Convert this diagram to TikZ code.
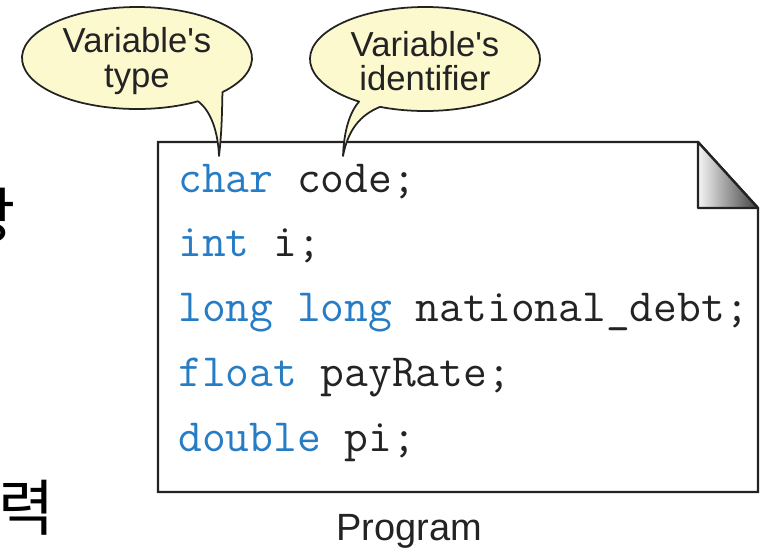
\documentclass[tikz,border=0pt]{standalone}
\usepackage{fontspec}
\setsansfont{Liberation Sans}
\newfontfamily\krfont{Noto Sans CJK KR}
\usetikzlibrary{positioning}
\definecolor{kwblue}{RGB}{38,125,198}
\definecolor{ink}{RGB}{35,35,35}
\definecolor{balloon}{RGB}{253,249,207}
\newcommand{\kw}[1]{\textcolor{kwblue}{#1}}

\begin{document}
\begin{tikzpicture}[x=0.03cm, y=-0.03cm,
  bubble/.style={draw=ink, line width=1.5pt, fill=balloon, line join=round},
  bubtext/.style={font=\sffamily\fontsize{29.6}{29.4}\selectfont, text=ink, align=center, inner sep=0pt},
  codeln/.style={font=\ttfamily\fontsize{39.4}{39.4}\selectfont, anchor=base west, inner sep=0pt, text=ink},
  hangul/.style={font=\krfont\fontsize{52}{52}\selectfont, inner sep=0pt}]
  \useasboundingbox (0,0) rectangle (772,548);
  % page with folded corner
  \coordinate (tl) at (158,142);
  \coordinate (fa) at (698,142);
  \coordinate (fb) at (698,208);
  \coordinate (fc) at (758,208);
  \coordinate (br) at (758,492);
  \coordinate (bl) at (158,492);
  \draw[ink, line width=2pt, fill=white] (tl) -- (fa) -- (fc) -- (br) -- (bl) -- cycle;
  \shade[left color=gray!8, right color=black!75] (fa) -- (fb) -- (fc) -- cycle;
  \draw[ink, line width=2pt, line join=round] (fa) -- (fb) -- (fc) -- cycle;
  \node[codeln] (l1) at (178,192) {\kw{char} code;};
  \node[codeln] (l2) at (178,256) {\kw{int} i;};
  \node[codeln] (l3) at (178,321) {\kw{long long} national\_debt;};
  \node[codeln] (l4) at (178,386) {\kw{float} payRate;};
  \node[codeln] (l5) at (178,451) {\kw{double} pi;};
  \node[font=\sffamily\fontsize{32.4}{32.4}\selectfont, text=ink, anchor=base, inner sep=0pt] (prog) at (409,540) {Program};
  % callouts
  \draw[bubble] (137,58) ++(-42:3.45cm and 1.53cm) arc[start angle=-42, end angle=302, x radius=3.45cm, y radius=1.53cm]
    .. controls (210,110) and (218,130) .. (219,156) .. controls (222,130) and (222,110) .. cycle;
  \node[bubtext] (typelbl) at (137,61) {Variable\textquotesingle s\\type};
  \draw[bubble] (425,59) ++(-125:3.45cm and 1.56cm) arc[start angle=-125, end angle=-473, x radius=3.45cm, y radius=1.56cm]
    .. controls (360,115) and (348,130) .. (343,156) .. controls (344,130) and (350,112) .. cycle;
  \node[bubtext] (idlbl) at (425,61) {Variable\textquotesingle s\\identifier};
  % slide text cut off at the left
  \node[hangul] (hanA) at (-12,216) {상};
  \node[hangul] (hanB) at (27,508) {력};
\end{tikzpicture}
\end{document}
